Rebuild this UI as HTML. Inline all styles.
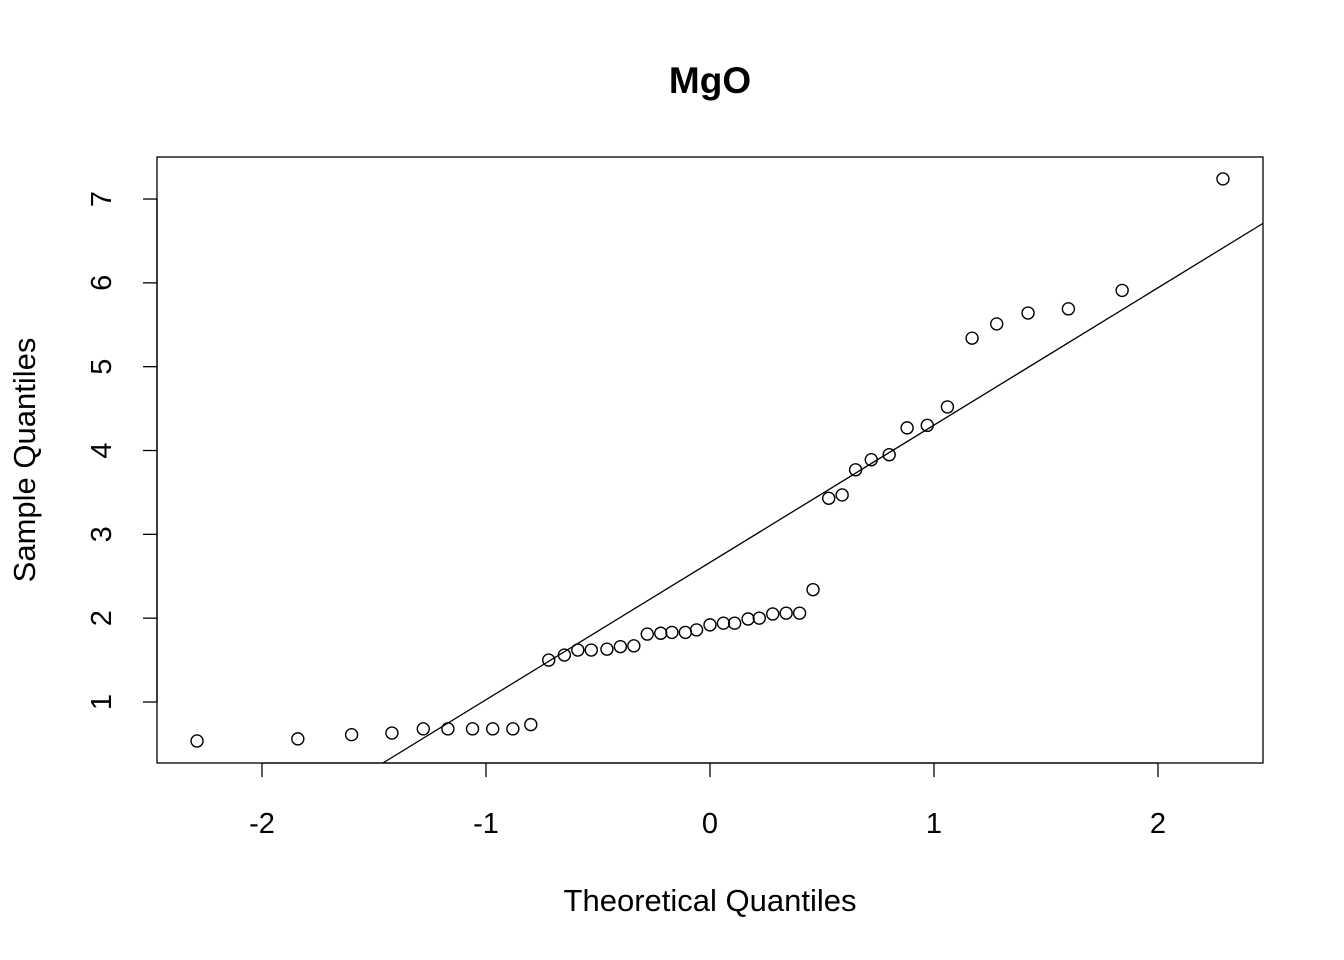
<!DOCTYPE html>
<html><head><meta charset="utf-8"><style>
html,body{margin:0;padding:0;background:#fff;}
svg{display:block;font-family:"Liberation Sans",Arial,sans-serif;}
</style></head><body>
<svg id="chart" width="1344" height="960" viewBox="0 0 1344 960">
<rect width="1344" height="960" fill="#fff"/>
<text x="710" y="93" text-anchor="middle" font-size="37" font-weight="bold">MgO</text>
<rect x="157" y="157" width="1106" height="606" fill="none" stroke="#000" stroke-width="1.3"/>
<text x="710" y="911" text-anchor="middle" font-size="31">Theoretical Quantiles</text>
<text transform="translate(35,460) rotate(-90)" text-anchor="middle" font-size="31">Sample Quantiles</text>
<g id="xaxis"></g>
<g id="yaxis"></g>
<g id="marks"></g>
</svg>
<script>
const theoretical = [-2.29,-1.84,-1.60,-1.42,-1.28,-1.17,-1.06,-0.97,-0.88,-0.80,-0.72,-0.65,-0.59,-0.53,-0.46,-0.40,-0.34,-0.28,-0.22,-0.17,-0.11,-0.06,0,0.06,0.11,0.17,0.22,0.28,0.34,0.40,0.46,0.53,0.59,0.65,0.72,0.80,0.88,0.97,1.06,1.17,1.28,1.42,1.60,1.84,2.29];
const sample = [0.535,0.56,0.61,0.63,0.68,0.68,0.68,0.68,0.68,0.73,1.50,1.56,1.62,1.62,1.63,1.66,1.67,1.81,1.82,1.83,1.83,1.86,1.92,1.94,1.94,1.99,2.00,2.05,2.06,2.06,2.34,3.43,3.47,3.77,3.89,3.95,4.27,4.30,4.52,5.34,5.51,5.64,5.69,5.91,7.24];
const xTicks = [-2,-1,0,1,2];
const yTicks = [1,2,3,4,5,6,7];

const NS="http://www.w3.org/2000/svg";
const L=157,R=1263,T=157,B=763;
const sx=v=>710+v*224;
const sy=v=>702-(v-1)*83.83;
function mk(tag,attrs,parent){const e=document.createElementNS(NS,tag);for(const k in attrs)e.setAttribute(k,attrs[k]);parent.appendChild(e);return e;}

const xa=document.getElementById('xaxis');
mk('line',{x1:sx(xTicks[0]),x2:sx(xTicks[xTicks.length-1]),y1:B,y2:B,stroke:'#000','stroke-width':1.3},xa);
xTicks.forEach(t=>{
  const l=mk('line',{x1:sx(t),x2:sx(t),y1:B,y2:B+14,stroke:'#000','stroke-width':1.3},xa);
  
  
  const tx=mk('text',{x:sx(t),y:833,'text-anchor':'middle','font-size':29},xa);
  tx.textContent=t<0?'-'+Math.abs(t):String(t);
  
  
});
const ya=document.getElementById('yaxis');
mk('line',{x1:L,x2:L,y1:sy(yTicks[0]),y2:sy(yTicks[yTicks.length-1]),stroke:'#000','stroke-width':1.3},ya);
yTicks.forEach(t=>{
  const l=mk('line',{x1:L-14,x2:L,y1:sy(t),y2:sy(t),stroke:'#000','stroke-width':1.3},ya);
  
  
  const tx=mk('text',{transform:`translate(111,${sy(t)}) rotate(-90)`,'text-anchor':'middle','font-size':29},ya);
  tx.textContent=String(t);
  
  
});

const g=document.getElementById('marks');
const s=[...sample].sort((a,b)=>a-b);
function q(p){const h=(s.length-1)*p;const lo=Math.floor(h);return s[lo]+(h-lo)*((s[lo+1]??s[lo])-s[lo]);}
const z=0.6744898;
const slope=(q(0.75)-q(0.25))/(2*z), icpt=q(0.25)+slope*z;
const yAt=x=>icpt+slope*x;
let x0=(L-710)/224,x1=(R-710)/224;
const yMin=(702-B)/83.83+1;
const xb=(yMin-icpt)/slope; if(xb>x0)x0=xb;
const yMax=(702-T)/83.83+1; const xt=(yMax-icpt)/slope; if(xt<x1)x1=xt;
const ln=mk('line',{x1:sx(x0),y1:sy(yAt(x0)),x2:sx(x1),y2:sy(yAt(x1)),stroke:'#000','stroke-width':1.3},g);


theoretical.forEach((x,i)=>{
  const c=mk('circle',{cx:sx(x),cy:sy(sample[i]),r:6,fill:'none',stroke:'#000','stroke-width':1.4},g);
  
  
});
</script>
</body></html>
